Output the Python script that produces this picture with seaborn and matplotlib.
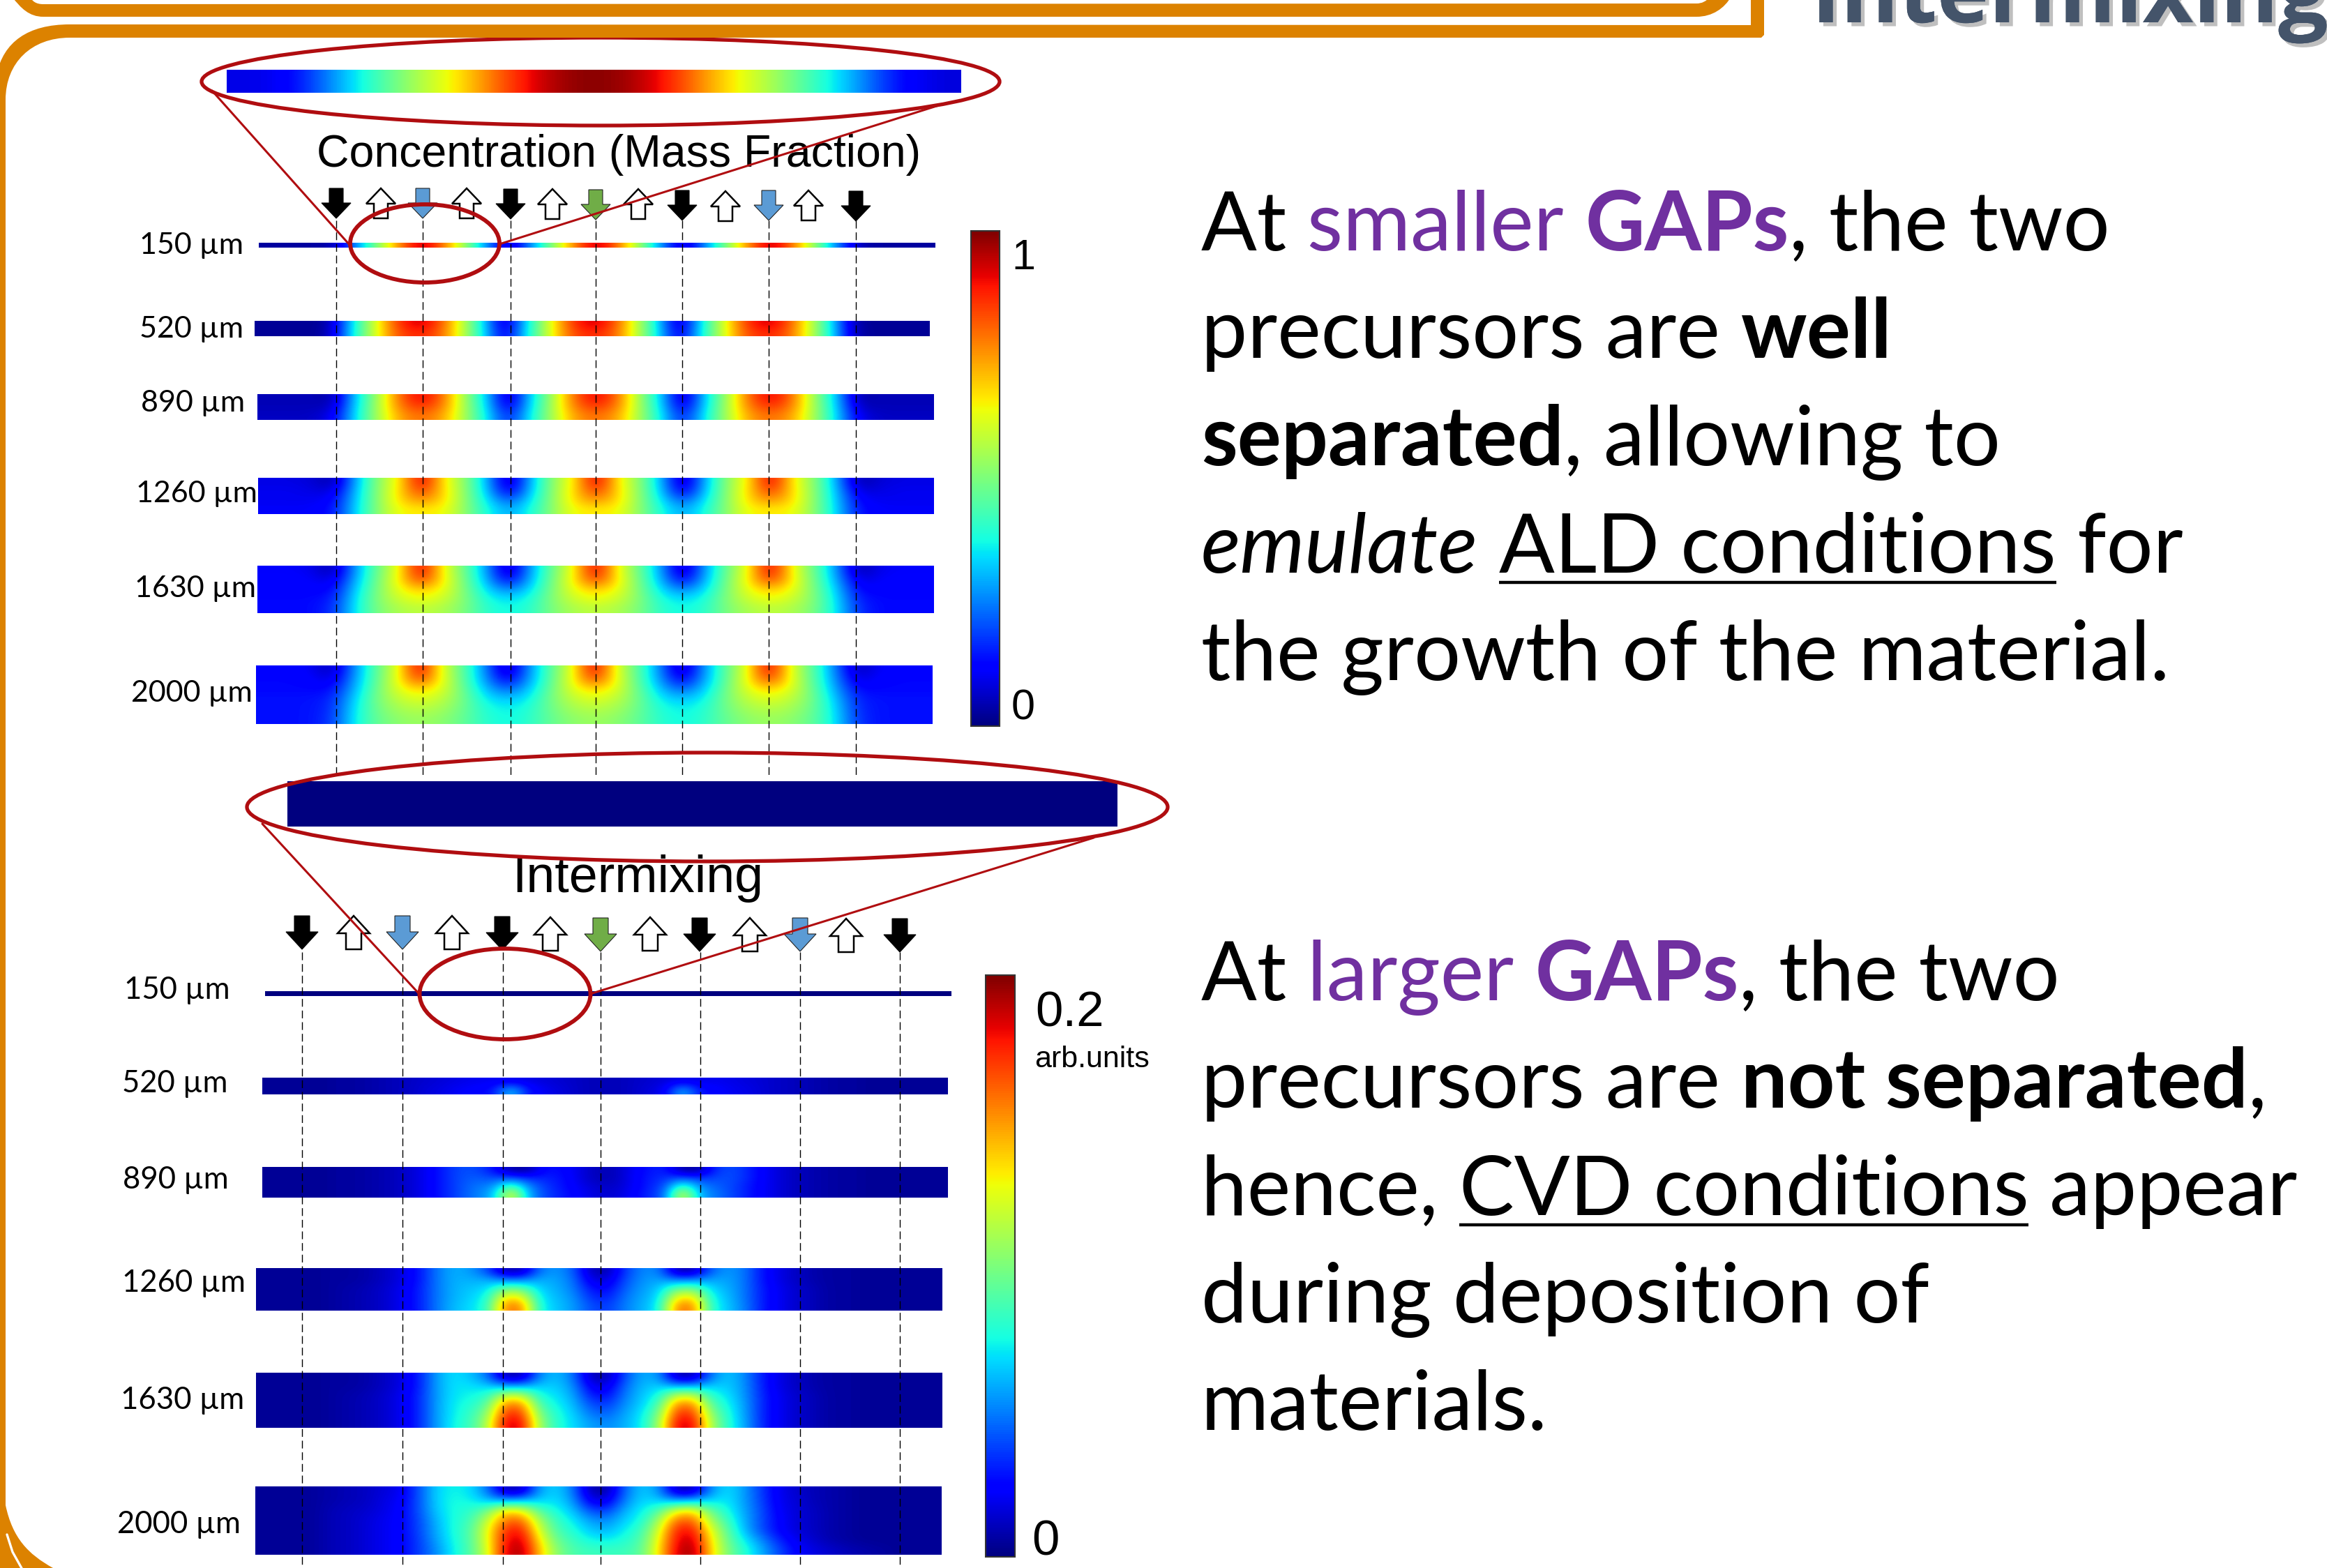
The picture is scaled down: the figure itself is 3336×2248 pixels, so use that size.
# Concentration / intermixing slide

import numpy as np
import matplotlib
matplotlib.use('Agg')
import matplotlib.pyplot as plt
import matplotlib.patches as mpatches
import matplotlib.patheffects as pe
from matplotlib.path import Path
import seaborn as sns

sns.set_theme(style='white')
plt.rcParams['font.family'] = ['Lato', 'DejaVu Sans']

W, H = 3337, 2248

# gap labels
gap_labels = ['150 µm', '520 µm', '890 µm', '1260 µm', '1630 µm', '2000 µm']

# values in percent of each colour scale
conc_zoom = [[9, 11, 28, 43, 57, 68, 84, 96, 100, 96, 84, 68, 57, 43, 30, 13, 8]]
conc_150 = [[3, 3, 3, 4, 27, 52, 78, 96, 78, 52, 25, 4, 27, 52, 78, 96, 78, 52, 25, 4, 27, 52, 78, 96, 78, 52, 25, 4, 3, 3, 3]]
conc_520 = [
    [2, 2, 2, 3, 35, 60, 84, 94, 84, 60, 35, 3, 35, 60, 84, 94, 84, 60, 35, 3, 35, 60, 84, 94, 84, 60, 35, 3, 2, 2, 2],
    [2, 2, 2, 4, 36, 60, 82, 88, 82, 60, 36, 6, 36, 60, 82, 88, 82, 60, 36, 6, 36, 60, 82, 88, 82, 60, 36, 4, 2, 2, 2],
]
conc_890 = [
    [5, 5, 5, 3, 33, 54, 80, 92, 80, 54, 33, 3, 33, 54, 80, 92, 80, 54, 33, 3, 33, 54, 80, 92, 80, 54, 33, 3, 5, 5, 5],
    [5, 5, 5, 6, 34, 55, 78, 86, 78, 55, 34, 7, 34, 55, 78, 86, 78, 55, 34, 7, 34, 55, 78, 86, 78, 55, 34, 6, 5, 5, 5],
    [6, 6, 6, 10, 35, 55, 74, 80, 74, 55, 36, 13, 36, 55, 74, 80, 74, 55, 36, 13, 36, 55, 74, 80, 74, 55, 35, 10, 6, 6, 6],
]
conc_1260 = [
    [9, 9, 8, 3, 30, 52, 66, 94, 66, 52, 30, 3, 30, 52, 66, 94, 66, 52, 30, 3, 30, 52, 66, 94, 66, 52, 30, 3, 8, 9, 9],
    [10, 10, 9, 8, 32, 52, 68, 86, 68, 52, 32, 8, 32, 52, 68, 86, 68, 52, 32, 8, 32, 52, 68, 86, 68, 52, 32, 8, 9, 10, 10],
    [10, 10, 10, 12, 33, 52, 68, 76, 68, 52, 35, 20, 35, 52, 68, 76, 68, 52, 35, 20, 35, 52, 68, 76, 68, 52, 33, 12, 10, 10, 10],
    [11, 11, 11, 14, 34, 52, 65, 66, 65, 52, 38, 28, 38, 52, 65, 66, 65, 52, 38, 28, 38, 52, 65, 66, 65, 52, 34, 14, 11, 11, 11],
]
conc_1630 = [
    [11, 11, 10, 3, 28, 48, 64, 94, 64, 48, 28, 3, 28, 48, 64, 94, 64, 48, 28, 3, 28, 48, 64, 94, 64, 48, 28, 3, 10, 11, 11],
    [12, 12, 11, 8, 30, 49, 66, 86, 66, 49, 30, 10, 30, 49, 66, 86, 66, 49, 30, 10, 30, 49, 66, 86, 66, 49, 30, 8, 11, 12, 12],
    [12, 12, 12, 12, 33, 50, 64, 70, 64, 50, 34, 24, 34, 50, 64, 70, 64, 50, 34, 24, 34, 50, 64, 70, 64, 50, 33, 12, 12, 12, 12],
    [13, 13, 13, 15, 35, 51, 60, 64, 60, 51, 38, 34, 38, 51, 60, 64, 60, 51, 38, 34, 38, 51, 60, 64, 60, 51, 35, 15, 13, 13, 13],
    [13, 13, 13, 17, 36, 50, 56, 58, 56, 50, 40, 37, 40, 50, 56, 58, 56, 50, 40, 37, 40, 50, 56, 58, 56, 50, 36, 17, 13, 13, 13],
]
conc_2000 = [
    [12, 12, 11, 4, 26, 46, 62, 94, 62, 46, 26, 3, 26, 46, 62, 94, 62, 46, 26, 3, 26, 46, 62, 94, 62, 46, 26, 4, 11, 12, 12],
    [13, 13, 12, 8, 28, 46, 64, 84, 64, 46, 28, 10, 28, 46, 64, 84, 64, 46, 28, 10, 28, 46, 64, 84, 64, 46, 28, 8, 12, 13, 13],
    [13, 13, 13, 13, 30, 48, 62, 68, 62, 48, 32, 22, 32, 48, 62, 68, 62, 48, 32, 22, 32, 48, 62, 68, 62, 48, 30, 13, 13, 13, 13],
    [14, 14, 14, 16, 33, 49, 58, 62, 58, 49, 36, 32, 36, 49, 58, 62, 58, 49, 36, 32, 36, 49, 58, 62, 58, 49, 33, 16, 14, 14, 14],
    [14, 14, 14, 17, 35, 48, 55, 57, 55, 48, 39, 36, 39, 48, 55, 57, 55, 48, 39, 36, 39, 48, 55, 57, 55, 48, 35, 17, 14, 14, 14],
    [14, 14, 14, 18, 36, 47, 52, 54, 52, 47, 40, 37, 40, 47, 52, 54, 52, 47, 40, 37, 40, 47, 52, 54, 52, 47, 36, 18, 14, 14, 14],
]

mix_zoom = [[0, 0, 0], [0, 0, 0]]
mix_150 = [[0, 0, 0, 0, 0, 0, 0, 0, 0, 0, 0, 0, 0, 0, 0, 0, 0, 0, 0, 0]]
mix_520 = [
    [2, 2, 2, 2, 3, 3, 4, 5, 6, 7, 8, 9, 10, 10, 9, 9, 8, 7, 6, 5, 5, 6, 7, 8, 9, 9, 10, 9, 8, 7, 6, 5, 4, 3, 3, 2, 2, 2, 2, 2],
    [2, 2, 2, 2, 3, 3, 4, 5, 6, 8, 9, 11, 12, 14, 34, 14, 10, 8, 6, 5, 5, 6, 8, 10, 32, 14, 12, 10, 9, 7, 6, 5, 4, 3, 3, 2, 2, 2, 2, 2],
]
mix_890 = [
    [2, 2, 2, 2, 3, 3, 4, 5, 7, 10, 15, 20, 20, 14, 3, 3, 14, 13, 9, 5, 5, 10, 14, 16, 3, 3, 18, 20, 15, 10, 7, 5, 4, 3, 3, 2, 2, 2, 2, 2],
    [2, 2, 2, 2, 3, 3, 4, 5, 7, 10, 15, 20, 22, 20, 22, 17, 16, 14, 9, 5, 5, 10, 15, 17, 22, 18, 20, 20, 15, 10, 7, 5, 4, 3, 3, 2, 2, 2, 2, 2],
    [2, 2, 2, 2, 3, 3, 4, 5, 7, 10, 15, 20, 24, 26, 46, 26, 18, 14, 10, 7, 6, 10, 15, 20, 44, 26, 22, 19, 14, 10, 7, 5, 4, 3, 3, 2, 2, 2, 2, 2],
    [2, 2, 2, 2, 3, 3, 4, 5, 7, 10, 15, 20, 25, 30, 66, 30, 19, 15, 11, 8, 7, 11, 16, 22, 64, 30, 24, 19, 14, 10, 7, 5, 4, 3, 3, 2, 2, 2, 2, 2],
]
mix_1260 = [
    [2, 2, 2, 2, 3, 3, 4, 6, 9, 14, 24, 30, 28, 20, 4, 4, 24, 28, 22, 5, 4, 18, 26, 26, 4, 4, 22, 28, 24, 14, 9, 6, 4, 3, 3, 2, 2, 2, 2, 2],
    [2, 2, 2, 2, 3, 3, 4, 6, 9, 14, 24, 30, 30, 30, 26, 26, 30, 29, 24, 9, 8, 20, 27, 29, 26, 27, 29, 29, 24, 14, 9, 6, 4, 3, 3, 2, 2, 2, 2, 2],
    [2, 2, 2, 2, 3, 4, 5, 7, 10, 15, 24, 30, 32, 34, 50, 48, 33, 30, 25, 14, 12, 22, 28, 32, 48, 50, 34, 30, 24, 15, 10, 7, 5, 3, 3, 2, 2, 2, 2, 2],
    [2, 2, 2, 2, 3, 4, 5, 7, 10, 15, 24, 30, 33, 38, 68, 66, 36, 31, 27, 17, 15, 24, 29, 34, 66, 68, 38, 31, 24, 15, 10, 7, 5, 3, 3, 2, 2, 2, 2, 2],
    [2, 2, 2, 2, 3, 4, 5, 7, 10, 15, 24, 31, 34, 40, 78, 78, 38, 32, 28, 20, 18, 25, 30, 36, 78, 78, 40, 32, 25, 15, 10, 7, 5, 3, 3, 2, 2, 2, 2, 2],
]
mix_1630 = [
    [2, 2, 2, 2, 3, 3, 4, 6, 9, 15, 28, 35, 32, 24, 4, 4, 26, 32, 24, 5, 4, 20, 30, 28, 4, 4, 24, 33, 26, 15, 9, 6, 4, 3, 3, 2, 2, 2, 2, 2],
    [2, 2, 2, 2, 3, 3, 4, 6, 9, 15, 28, 35, 35, 33, 30, 30, 33, 33, 27, 10, 9, 23, 31, 33, 30, 31, 33, 33, 27, 15, 9, 6, 4, 3, 3, 2, 2, 2, 2, 2],
    [2, 2, 2, 2, 3, 4, 5, 7, 10, 16, 28, 35, 37, 40, 60, 60, 38, 35, 29, 15, 13, 25, 32, 38, 60, 60, 40, 35, 27, 16, 10, 7, 5, 3, 3, 2, 2, 2, 2, 2],
    [2, 2, 2, 2, 3, 4, 5, 7, 10, 16, 28, 36, 39, 46, 78, 78, 44, 37, 31, 20, 18, 27, 33, 44, 78, 78, 46, 37, 28, 16, 10, 7, 5, 3, 3, 2, 2, 2, 2, 2],
    [2, 2, 2, 2, 3, 4, 5, 7, 10, 16, 28, 36, 41, 52, 86, 86, 50, 39, 33, 24, 22, 29, 35, 50, 86, 86, 52, 39, 28, 16, 10, 7, 5, 3, 3, 2, 2, 2, 2, 2],
    [2, 2, 2, 2, 3, 4, 5, 7, 10, 16, 28, 37, 42, 56, 92, 92, 54, 40, 34, 28, 26, 30, 36, 54, 92, 92, 56, 40, 29, 16, 10, 7, 5, 3, 3, 2, 2, 2, 2, 2],
]
mix_2000 = [
    [2, 2, 2, 3, 4, 5, 6, 8, 10, 20, 33, 37, 35, 25, 5, 4, 28, 34, 25, 4, 3, 22, 33, 28, 5, 4, 26, 35, 28, 18, 10, 7, 5, 4, 3, 2, 2, 2, 2, 2],
    [2, 2, 2, 3, 4, 5, 6, 9, 11, 20, 33, 38, 37, 32, 30, 32, 33, 35, 28, 10, 9, 25, 34, 33, 30, 32, 34, 36, 28, 19, 10, 8, 5, 4, 3, 2, 2, 2, 2, 2],
    [2, 2, 2, 3, 5, 6, 7, 9, 12, 20, 32, 38, 40, 48, 68, 66, 46, 38, 32, 20, 18, 30, 36, 44, 64, 68, 48, 38, 29, 20, 11, 8, 6, 4, 3, 2, 2, 2, 2, 2],
    [2, 2, 2, 3, 5, 6, 8, 10, 12, 19, 30, 38, 42, 58, 78, 82, 56, 42, 36, 28, 26, 33, 38, 54, 80, 82, 56, 42, 30, 20, 12, 8, 6, 4, 3, 2, 2, 2, 2, 2],
    [2, 2, 2, 3, 5, 6, 8, 10, 12, 19, 29, 38, 44, 62, 86, 90, 62, 44, 39, 32, 30, 36, 42, 60, 88, 90, 64, 46, 31, 20, 12, 8, 6, 4, 3, 2, 2, 2, 2, 2],
    [2, 2, 2, 3, 5, 6, 8, 10, 12, 18, 28, 37, 44, 62, 88, 95, 68, 48, 42, 37, 36, 39, 44, 64, 90, 95, 68, 48, 36, 26, 16, 10, 7, 4, 3, 2, 2, 2, 2, 2],
    [2, 2, 2, 3, 5, 6, 8, 10, 12, 18, 26, 36, 44, 60, 90, 98, 72, 52, 44, 42, 42, 42, 46, 66, 92, 98, 70, 50, 40, 30, 20, 12, 9, 7, 5, 4, 3, 2, 2, 2],
]

conc_grids = [conc_150, conc_520, conc_890, conc_1260, conc_1630, conc_2000]
mix_grids = [mix_150, mix_520, mix_890, mix_1260, mix_1630, mix_2000]

# strips in picture pixels: x0, x1, y0, y1
conc_boxes = [(371, 1341, 348, 355), (365, 1333, 460, 482), (369, 1339, 565, 602),
              (370, 1339, 685, 737), (369, 1339, 811, 879), (367, 1337, 954, 1038)]
mix_boxes = [(380, 1364, 1421, 1428), (376, 1359, 1545, 1569), (376, 1359, 1673, 1717),
             (367, 1351, 1818, 1879), (367, 1351, 1968, 2047), (366, 1350, 2131, 2229)]
conc_label_pos = [(349, 352), (349, 472), (351, 578), (369, 708), (367, 844), (362, 994)]
mix_label_pos = [(330, 1419), (327, 1553), (328, 1691), (352, 1840), (350, 2007), (345, 2185)]

# arrows: k black, w white up, b blue, g green
arrow_kinds = ['k', 'w', 'b', 'w', 'k', 'w', 'g', 'w', 'k', 'w', 'b', 'w', 'k']
conc_arrow_x = [482, 546, 606, 669, 732, 792, 854, 915, 978, 1040, 1102, 1159, 1227]
conc_arrow_top = [270, 270, 270, 270, 271, 271, 272, 271, 273, 274, 273, 273, 274]
mix_arrow_x = [433, 507, 577, 648, 720, 789, 861, 932, 1003, 1075, 1147, 1213, 1290]
mix_arrow_top = [1313, 1313, 1313, 1313, 1314, 1315, 1316, 1315, 1316, 1316, 1316, 1317, 1317]
arrow_colors = {'k': 'black', 'w': 'white', 'b': '#5B9BD5', 'g': '#70AD47'}

ORANGE = '#DC8200'
RED = '#B00D10'
PURPLE = '#7030A0'

# text on the right: (piece, style)
block_one = [
    [('At ', 'n'), ('smaller ', 'p'), ('GAPs', 'pb'), (', the two', 'n')],
    [('precursors are ', 'n'), ('well', 'b')],
    [('separated', 'b'), (', allowing to', 'n')],
    [('emulate', 'i'), (' ', 'n'), ('ALD conditions', 'u'), (' for', 'n')],
    [('the growth of the material.', 'n')],
]
block_two = [
    [('At ', 'n'), ('larger ', 'p'), ('GAPs', 'pb'), (', the two', 'n')],
    [('precursors are ', 'n'), ('not separated', 'b'), (',', 'n')],
    [('hence, ', 'n'), ('CVD conditions', 'u'), (' appear', 'n')],
    [('during deposition of', 'n')],
    [('materials.', 'n')],
]
block_one_y = [359, 513, 667, 821, 975]
block_two_y = [1434, 1588, 1742, 1896, 2050]

fig = plt.figure(figsize=(W / 100, H / 100), dpi=100, facecolor='white')


def px_axes(x0, x1, y0, y1, **kw):
    return fig.add_axes([x0 / W, 1 - y1 / H, (x1 - x0) / W, (y1 - y0) / H], **kw)


def draw_strip(box, grid, cax=None):
    grid = np.array(grid, dtype=float)
    ax = px_axes(*box)
    sns.heatmap(grid, ax=ax, cmap='jet', vmin=0, vmax=100, cbar=cax is not None, cbar_ax=cax,
                xticklabels=False, yticklabels=False,
                cbar_kws={'ticks': [10, 20, 30, 40, 50, 60, 70, 80, 90]})
    # same cells, smoothed like the simulation plots
    ax.imshow(grid, cmap='jet', vmin=0, vmax=100, aspect='auto', interpolation='bicubic',
              extent=(0, grid.shape[1], grid.shape[0], 0), zorder=3)
    ax.set_axis_off()
    if cax is not None:
        ax.collections[0].colorbar.outline.set_linewidth(1.5)
        ax.collections[0].colorbar.outline.set_edgecolor('#333333')
        cax.tick_params(axis='y', direction='in', length=5, width=1.5, color='#444444',
                        left=True, right=True, labelleft=False, labelright=False)
    return ax


cax_top = px_axes(1392, 1433, 331, 1041)
cax_bottom = px_axes(1413, 1455, 1398, 2232)

draw_strip((325, 1378, 100, 133), conc_zoom)
for i in range(6):
    draw_strip(conc_boxes[i], conc_grids[i], cax_top if i == 5 else None)
draw_strip((412, 1602, 1120, 1185), mix_zoom)
for i in range(6):
    draw_strip(mix_boxes[i], mix_grids[i], cax_bottom if i == 5 else None)

# overlay in picture pixels for everything that is not a strip
ov = fig.add_axes([0, 0, 1, 1], facecolor='none', zorder=5)
ov.set_xlim(0, W)
ov.set_ylim(H, 0)
ov.axis('off')


def dashes(xs, y0, y1):
    for x in xs:
        ov.plot([x, x], [y0, y1], color='black', lw=1.0, dashes=(8, 4), zorder=2)


dashes([482, 606, 732, 854, 978, 1102, 1227], 316, 1113)
dashes([433, 577, 721, 861, 1004, 1147, 1290], 1365, H)


def arrow(x, top, kind, half_head, half_shaft, length, head):
    c = arrow_colors[kind]
    if kind == 'w':
        pts = [(x, top), (x + half_head, top + head), (x + half_shaft, top + head), (x + half_shaft, top + length),
               (x - half_shaft, top + length), (x - half_shaft, top + head), (x - half_head, top + head)]
        ov.add_patch(mpatches.Polygon(pts, closed=True, fc=c, ec='black', lw=1.8, zorder=3))
    else:
        pts = [(x - half_shaft, top), (x + half_shaft, top), (x + half_shaft, top + length - head), (x + half_head, top + length - head),
               (x, top + length), (x - half_head, top + length - head), (x - half_shaft, top + length - head)]
        ov.add_patch(mpatches.Polygon(pts, closed=True, fc=c, ec='#222222' if kind != 'k' else 'black', lw=0.8, zorder=3))


for x, t, k in zip(conc_arrow_x, conc_arrow_top, arrow_kinds):
    arrow(x, t, k, 21, 10, 43, 22)
for x, t, k in zip(mix_arrow_x, mix_arrow_top, arrow_kinds):
    arrow(x, t, k, 23, 11, 48, 25)

# row labels
for lab, (x, y) in zip(gap_labels, conc_label_pos):
    ov.text(x, y, lab, ha='right', va='center', fontsize=31, color='black', family='Lato', zorder=4)
for lab, (x, y) in zip(gap_labels, mix_label_pos):
    ov.text(x, y, lab, ha='right', va='center', fontsize=31.5, color='black', family='Lato', zorder=4)

# chart titles and scale labels
arial = 'Liberation Sans'
ov.text(454, 239, 'Concentration (Mass Fraction)', fontsize=46.4, family=arial, color='black', va='baseline', zorder=4)
ov.text(734, 1279, 'Intermixing', fontsize=53, family=arial, color='black', va='baseline', zorder=4)
ov.text(1450, 386, '1', fontsize=44, family=arial, color='black', va='baseline', zorder=4)
ov.text(1450, 1032, '0', fontsize=44, family=arial, color='black', va='baseline', zorder=4)
ov.text(1484, 1471, '0.2', fontsize=51, family=arial, color='black', va='baseline', zorder=4)
ov.text(1483, 1530, 'arb.units', fontsize=31, family=arial, color='black', va='baseline', zorder=4)
ov.text(1479, 2230, '0', fontsize=51, family=arial, color='black', va='baseline', zorder=4)

# red zoom marks
ov.add_patch(mpatches.Ellipse((861, 117), 1144, 126, fc='none', ec=RED, lw=3.8, zorder=6))
ov.add_patch(mpatches.Ellipse((609, 349), 214, 112, fc='none', ec=RED, lw=4.2, zorder=6))
ov.plot([304, 502], [130, 352], color=RED, lw=2.2, zorder=6)
ov.plot([1349, 716], [150, 350], color=RED, lw=2.2, zorder=6)
ov.add_patch(mpatches.Ellipse((1014, 1157), 1320, 156, fc='none', ec=RED, lw=3.8, zorder=6))
ov.add_patch(mpatches.Ellipse((724, 1425), 245, 130, fc='none', ec=RED, lw=4.2, zorder=6))
ov.plot([376, 601], [1181, 1425], color=RED, lw=2.2, zorder=6)
ov.plot([1568, 846], [1201, 1425], color=RED, lw=2.2, zorder=6)

# orange slide frames, over the big ellipse
M, L, C = Path.MOVETO, Path.LINETO, Path.CURVE4
frame_pts = [(2529, -5), (2529, 50), (2525, 54), (100, 54), (45, 54), (8, 90), (8, 143), (8, 2158),
             (0, 2158), (-5, 2158), (-5, 107), (5, 60), (40, 35), (100, 35), (2510, 36), (2510, -5), (2529, -5)]
frame_codes = [M, L, L, L, C, C, C, L, L, L, L, C, C, C, L, L, Path.CLOSEPOLY]
ov.add_patch(mpatches.PathPatch(Path(frame_pts, frame_codes), fc=ORANGE, ec='none', zorder=8))
band_pts = [(17, -5), (30, 12), (42, 24), (62, 24), (2432, 24), (2455, 24), (2472, 12), (2482, -5),
            (2452, -5), (2446, 2), (2440, 5), (2432, 5), (62, 6), (52, 6), (46, 2), (43, -5), (17, -5)]
band_codes = [M, C, C, C, L, C, C, C, L, C, C, C, L, C, C, C, Path.CLOSEPOLY]
ov.add_patch(mpatches.PathPatch(Path(band_pts, band_codes), fc=ORANGE, ec='none', zorder=8))
corner_pts = [(-5, 2140), (8, 2158), (18, 2205), (40, 2228), (76, 2248), (76, 2255), (-5, 2255), (-5, 2140)]
corner_codes = [M, L, C, C, C, L, L, Path.CLOSEPOLY]
ov.add_patch(mpatches.PathPatch(Path(corner_pts, corner_codes), fc=ORANGE, ec='none', zorder=8))
ov.plot([10, 18, 32], [2200, 2225, 2250], color='white', lw=2.4, zorder=9)

# slide title, cut by the top edge
ov.text(2597, 32, 'Intermixing', fontsize=91, family='Open Sans', weight='bold', color='#44546A', va='baseline', zorder=7,
        path_effects=[pe.withSimplePatchShadow(offset=(4, -4), shadow_rgbFace='#000000', alpha=0.25), pe.Normal()])

# right hand text, pieces placed one after the other
text_size = 85
styles = {
    'n': dict(color='black'),
    'p': dict(color=PURPLE),
    'pb': dict(color=PURPLE, weight='bold'),
    'b': dict(color='black', weight='bold'),
    'i': dict(color='black', style='italic'),
    'u': dict(color='black'),
}
renderer = fig.canvas.get_renderer()


def advance(piece, kw):
    # the x marks keep leading and trailing blanks in the measure
    a = ov.text(0, 0, 'x' + piece + 'x', fontsize=text_size, family='Lato', **kw)
    b = ov.text(0, 0, 'xx', fontsize=text_size, family='Lato', **kw)
    w = a.get_window_extent(renderer).width - b.get_window_extent(renderer).width
    a.remove()
    b.remove()
    return w


def write_block(lines, ys, x0=1722):
    for line, y in zip(lines, ys):
        x = x0
        for piece, st in line:
            kw = styles[st]
            ov.text(x, y, piece, fontsize=text_size, family='Lato', va='baseline', zorder=4, **kw)
            w = advance(piece, kw)
            if st == 'u':
                ov.plot([x, x + w], [y + 14, y + 14], color='black', lw=3.2, zorder=4, solid_capstyle='butt')
            x += w


write_block(block_one, block_one_y)
write_block(block_two, block_two_y)

plt.savefig('out.png', dpi=100, facecolor='white')
